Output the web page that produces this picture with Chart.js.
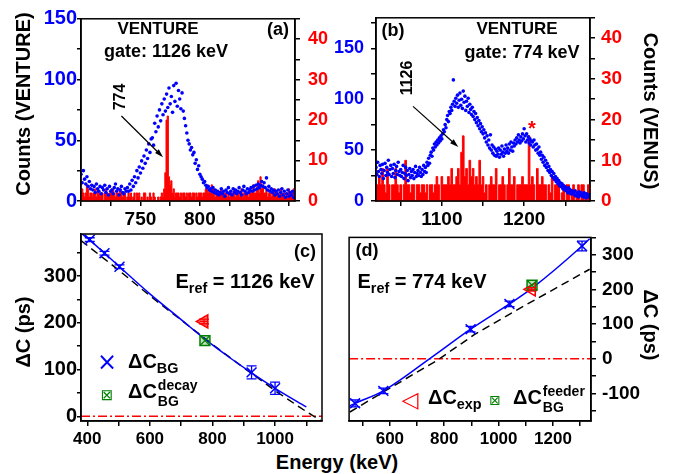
<!DOCTYPE html>
<html>
<head>
<meta charset="utf-8">
<script src="https://cdn.jsdelivr.net/npm/chart.js@4.4.1/dist/chart.umd.min.js"></script>
<style>
  body { margin: 0; background: #fff; }
  #fig { position: relative; width: 681px; height: 474px; overflow: hidden;
         font-family: "Liberation Sans", Arial, sans-serif; font-weight: bold; color: #000; }
  canvas { position: absolute; }
  .t { position: absolute; transform: translate(-50%, -50%); white-space: nowrap; line-height: 1; }
  .l { position: absolute; transform: translateY(-50%); white-space: nowrap; line-height: 1; }
  .up { transform: translate(-50%, -50%) rotate(-90deg); }
  .down { transform: translate(-50%, -50%) rotate(90deg); }
  sub { font-size: 72%; line-height: 0; vertical-align: -0.35em; }
  .ss { display: inline-flex; flex-direction: column; vertical-align: 0.58em; font-size: 70%; line-height: 1.15; margin-left: 1px; }
  .mk { font-family: "DejaVu Sans", sans-serif; font-weight: normal; }
</style>
</head>
<body>
<div id="fig">
  <canvas id="pa" width="340" height="230" style="left:0;top:0"></canvas>
  <canvas id="pb" width="320" height="230" style="left:330px;top:0"></canvas>
  <canvas id="pc" width="340" height="230" style="left:0;top:220px"></canvas>
  <canvas id="pd" width="320" height="230" style="left:340px;top:220px"></canvas>

  <div class="t up" style="left:23px;top:104px;font-size:20px">Counts (VENTURE)</div>
  <div class="t down" style="left:651px;top:111px;font-size:20px">Counts (VENUS)</div>
  <div class="t up" style="left:23px;top:332px;font-size:20px">ΔC (ps)</div>
  <div class="t down" style="left:651px;top:325px;font-size:20px">ΔC (ps)</div>
  <div class="t" style="left:337px;top:462px;font-size:20px">Energy (keV)</div>

  <div class="t" style="left:158px;top:28px;font-size:17px">VENTURE</div>
  <div class="t" style="left:166px;top:51px;font-size:18px">gate: 1126 keV</div>
  <div class="t" style="left:278px;top:29px;font-size:18px">(a)</div>
  <div class="t up" style="left:120px;top:97px;font-size:16px">774</div>

  <div class="t" style="left:393px;top:30px;font-size:18px">(b)</div>
  <div class="t" style="left:517px;top:28px;font-size:17px">VENTURE</div>
  <div class="t" style="left:522px;top:52px;font-size:18px">gate: 774 keV</div>
  <div class="t up" style="left:407px;top:78px;font-size:16px">1126</div>
  <div class="t" style="left:532px;top:128px;font-size:20px;color:#ff0000">*</div>

  <div class="t" style="left:305px;top:251px;font-size:18px">(c)</div>
  <div class="t" style="left:245px;top:281px;font-size:20px">E<sub>ref</sub> = 1126 keV</div>
  <div class="t mk" style="left:107px;top:362px;font-size:24px;color:#0000ff">×</div>
  <div class="l" style="left:128px;top:361px;font-size:20px">ΔC<sub>BG</sub></div>
  <div class="t mk" style="left:107px;top:395px;font-size:15px;color:#008000">⊠</div>
  <div class="l" style="left:128px;top:393px;font-size:20px">ΔC<span class="ss"><span>decay</span><span>BG</span></span></div>

  <div class="t" style="left:367px;top:250px;font-size:18px">(d)</div>
  <div class="t" style="left:422px;top:281px;font-size:20px">E<sub>ref</sub> = 774 keV</div>
  <div class="t mk" style="left:410px;top:400px;font-size:22px;color:#ff0000">◁</div>
  <div class="l" style="left:428px;top:397px;font-size:20px">ΔC<sub>exp</sub></div>
  <div class="t mk" style="left:495px;top:400px;font-size:14px;color:#008000">⊠</div>
  <div class="l" style="left:513px;top:399px;font-size:20px">ΔC<span class="ss"><span>feeder</span><span>BG</span></span></div>
</div>

<script>
// (a) gate 1126 keV: VENTURE counts per 1 keV channel from 700 keV, VENUS counts per 1 keV
const aStartKeV = 700;
const aVentureCounts = [
  22,15,25,18,14,20,12,16,10,13, 9,12,7,14,10,8,12,6,11,9,
  13,7,10,5,12,8,9,6,11,14, 8,10,5,9,12,7,6,10,8,11,
  8,14,9,17,12,20,15,25,19,28, 23,33,27,37,31,42,35,47,40,51,
  52,46,64,57,70,61,75,66,80,71, 84,74,88,77,93,80,86,73,95,82,
  97,78,91,84,76,89,74,68,62,56, 50,47,42,44,38,40,31,34,26,29,
  22,20,18,15,16,13,11,12,9,10, 8,11,7,9,6,8,5,7,10,6,
  8,4,9,7,11,6,8,5,10,7, 9,6,8,11,7,5,9,12,8,6,
  10,7,9,11,8,12,9,13,10,14, 11,13,16,12,15,11,19,9,12,8,
  10,7,9,5,8,6,9,4,7,10, 5,8,3,6,9,4,7,5,8,3, 6
];
const aVenusCounts = [
  2,3,2,1,2,4,3,1,2,2,1, 2,3,1,3,2,1,2,2,0,2,
  3,2,1,2,2,3,3,2,1,2, 2,1,3,2,1,2,2,0,1,2,
  1,2,0,1,2,0,2,1,2,0, 1,0,2,2,0,1,0,2,1,0,
  2,1,0,0,1,0,1,2,1,3, 7,20,21,6,4,5,2,3,1,2,
  2,2,1,2,0,2,2,1,2,0, 2,2,1,2,2,0,2,1,2,2,
  2,1,2,2,3,4,2,3,2,4, 3,3,1,2,2,1,2,3,2,1,
  2,2,1,2,1,2,2,2,3,1, 2,2,1,2,3,1,2,2,2,2,
  1,3,2,2,4,2,2,3,5,2, 6,3,4,2,2,3,1,2,2,1,
  2,2,3,1,2,2,1,3,2,1, 2,1,2,2,3,1,2,2,3,1
];
const aXLabels = [750, 800, 850];
const aYLabels = [0, 50, 100, 150];
const venusLabels = [0, 10, 20, 30, 40];

// (b) gate 774 keV: VENTURE per 1 keV from 1020 keV, VENUS per 2 keV from 1020 keV
const bStartKeV = 1020;
const bVentureCounts = [
  33,26,38,29,24,35,31,27,36,22, 30,37,25,33,28,40,26,31,35,24,
  32,27,36,23,30,34,26,38,29,25, 31,24,28,35,22,27,33,25,30,20,
  26,32,23,29,25,31,22,28,34,24, 27,30,25,33,28,24,31,26,35,29,
  33,28,38,35,42,37,45,48,44,52, 50,56,53,58,55,60,57,62,59,64,
  61,66,70,68,75,72,80,84,78,88, 86,92,89,95,119,98,93,101,96,104,
  92,99,106,94,100,91,108,97,103,89, 98,93,101,87,95,90,85,92,83,88,
  80,86,77,82,74,79,71,76,68,73, 66,70,62,67,58,64,55,60,52,65,
  50,55,47,53,45,51,44,49,46,52, 43,50,46,54,48,44,51,47,55,49,
  52,47,56,50,58,53,49,57,54,60, 56,62,58,65,60,57,63,59,66,61,
  71,64,58,66,60,63,57,61,55,59, 58,53,60,55,50,56,51,47,53,45,
  48,41,45,38,43,35,40,33,37,30, 34,28,31,25,29,23,27,21,24,19,
  22,17,20,15,18,14,17,12,15,11, 14,10,12,8,13,9,11,7,10,8,
  9,6,10,5,8,7,4,9,6,8, 5,7,4,8,6,3,7,5,4,6, 5
];
const bVenusBinKeV = 2;
const bVenusCounts = [
  4,4,6,4,8,4,2,8,4,0, 4,4,8,4,2,4,0,4,10,4,
  4,2,4,4,0,4,4,2,4,4, 2,4,0,4,4,2,4,6,4,0,
  6,4,4,4,6,4,8,4,4,6, 8,4,12,16,6,8,4,10,6,8,
  4,6,4,10,4,6,2,4,0,4, 6,4,4,8,0,4,4,6,4,0,
  4,8,4,4,6,0,4,4,4,6, 4,4,4,16,4,6,4,0,8,4,
  4,6,4,4,0,4,2,6,0,4, 4,4,0,2,4,0,4,4,0,2,
  4,0,2,4,0,4,4,0,2,4, 0
];
const bXLabels = [1100, 1200];
const bYLabels = [0, 50, 100, 150];

// (c) Eref = 1126 keV
const cEnergy = [408, 455, 503, 925, 1000];
const cDeltaC = [378, 349, 320, 94, 60];
const cDeltaCErr = [4, 4, 4, 14, 13];
const cDecayEnergy = [776];
const cDecayDeltaC = [162];
const cExpEnergy = [773];
const cExpDeltaC = [203];
const cFitEnergy = [380, 408, 455, 503, 600, 700, 776, 850, 925, 1000, 1100];
const cFitDeltaC = [392, 377, 349, 320, 262, 207, 165, 128, 93, 60, 20];
const cLinEnergy = [380, 500, 600, 700, 800, 900, 1000, 1100, 1148];
const cLinDeltaC = [376, 313, 258, 206, 154, 104, 55, 10, -10];
const cZeroEnergy = [380, 1150];
const cXLabels = [400, 600, 800, 1000];
const cYLabels = [0, 100, 200, 300];

// (d) Eref = 774 keV
const dEnergy = [472, 576, 897, 1040, 1307];
const dDeltaC = [-129, -93, 85, 158, 325];
const dDeltaCErr = [10, 8, 8, 8, 14];
const dFeederEnergy = [1123];
const dFeederDeltaC = [212];
const dExpEnergy = [1121];
const dExpDeltaC = [200];
const dFitEnergy = [453, 472, 576, 747, 897, 1040, 1126, 1307, 1335];
const dFitDeltaC = [-136, -129, -93, 0, 85, 158, 205, 325, 346];
const dLinEnergy = [453, 600, 774, 912, 1100, 1335];
const dLinDeltaC = [-154, -85, -5, 70, 155, 258];
const dZeroEnergy = [450, 1340];
const dXLabels = [600, 800, 1000, 1200];
const dYLabels = [-100, 0, 100, 200, 300];

const FONT = '"Liberation Sans", Arial, sans-serif';
const BLUE = '#0000ff', RED = '#ff0000', GREEN = '#008000';

const pts = (xs, ys) => xs.map((x, i) => ({ x, y: ys[i] }));
const channels = (start, step, counts) => counts.map((c, i) => ({ x: start + i * step, y: c }));

// box around the plot area
const frame = {
  id: 'frame',
  afterDatasetsDraw(chart) {
    const { ctx, chartArea: a } = chart;
    ctx.save();
    ctx.strokeStyle = '#000';
    ctx.lineWidth = 1.5;
    ctx.strokeRect(a.left, a.top, a.right - a.left, a.bottom - a.top);
    ctx.restore();
  }
};

const errorBars = {
  id: 'errorBars',
  afterDatasetsDraw(chart) {
    const ctx = chart.ctx;
    const xs = chart.scales.x, ys = chart.scales.y;
    chart.data.datasets.forEach(ds => {
      if (!ds.yErr && !ds.xErr) return;
      ctx.save();
      ctx.strokeStyle = ds.borderColor;
      ctx.lineWidth = 1.3;
      ds.data.forEach((p, j) => {
        const px = xs.getPixelForValue(p.x), py = ys.getPixelForValue(p.y);
        ctx.beginPath();
        if (ds.yErr) {
          const t = ys.getPixelForValue(p.y + ds.yErr[j]), b = ys.getPixelForValue(p.y - ds.yErr[j]);
          ctx.moveTo(px, t); ctx.lineTo(px, b);
          ctx.moveTo(px - 5, t); ctx.lineTo(px + 5, t);
          ctx.moveTo(px - 5, b); ctx.lineTo(px + 5, b);
        }
        if (ds.xErr) {
          const l = xs.getPixelForValue(p.x - ds.xErr[j]), r = xs.getPixelForValue(p.x + ds.xErr[j]);
          ctx.moveTo(l, py); ctx.lineTo(r, py);
        }
        ctx.stroke();
      });
      ctx.restore();
    });
  }
};

const arrow = {
  id: 'arrow',
  afterDatasetsDraw(chart, args, opts) {
    if (!opts || !opts.from) return;
    const { ctx } = chart;
    const xs = chart.scales.x, ys = chart.scales.y;
    const x1 = xs.getPixelForValue(opts.from[0]), y1 = ys.getPixelForValue(opts.from[1]);
    const x2 = xs.getPixelForValue(opts.to[0]), y2 = ys.getPixelForValue(opts.to[1]);
    const ang = Math.atan2(y2 - y1, x2 - x1);
    ctx.save();
    ctx.strokeStyle = '#000';
    ctx.fillStyle = '#000';
    ctx.lineWidth = 1.2;
    ctx.beginPath();
    ctx.moveTo(x1, y1);
    ctx.lineTo(x2 - 6 * Math.cos(ang), y2 - 6 * Math.sin(ang));
    ctx.stroke();
    ctx.beginPath();
    ctx.moveTo(x2, y2);
    ctx.lineTo(x2 - 9 * Math.cos(ang - 0.3), y2 - 9 * Math.sin(ang - 0.3));
    ctx.lineTo(x2 - 9 * Math.cos(ang + 0.3), y2 - 9 * Math.sin(ang + 0.3));
    ctx.closePath();
    ctx.fill();
    ctx.restore();
  }
};

// ticks at every multiple of step inside [min, max]
const everyStep = (min, max, step) => s => {
  const t = [];
  for (let v = Math.ceil(min / step) * step; v <= max; v += step) t.push({ value: v });
  s.ticks = t;
};

function xAxis(min, max, step, labels, size, pad) {
  return {
    type: 'linear', position: 'bottom', min, max,
    afterFit: s => { s.height = 29; },
    afterBuildTicks: everyStep(min, max, step),
    border: { display: true, color: '#000', width: 1.5 },
    grid: { drawOnChartArea: false, color: '#000', lineWidth: 1.5, tickLength: 5 },
    ticks: {
      autoSkip: false, maxRotation: 0, minRotation: 0,
      padding: pad, color: '#000', font: { family: FONT, size, weight: 'bold' },
      callback: v => labels.includes(v) ? String(v) : ''
    }
  };
}

function yAxis(position, min, max, step, labels, color, size, width, tick, pad) {
  return {
    type: 'linear', position, min, max,
    afterFit: s => { s.width = width; },
    afterBuildTicks: everyStep(min, max, step),
    border: { display: true, color: '#000', width: 1.5 },
    grid: { drawOnChartArea: false, color: '#000', lineWidth: 1.5, tickLength: tick },
    ticks: {
      autoSkip: false,
      padding: pad, color, font: { family: FONT, size, weight: 'bold' },
      callback: v => labels.includes(v) ? String(v) : ''
    }
  };
}

const base = {
  responsive: false,
  animation: false,
  devicePixelRatio: 1,
  events: [],
  plugins: { legend: { display: false }, tooltip: { enabled: false } }
};

function spectrumChart(id, blue, red, scales, layoutPad, arrowOpts) {
  return new Chart(document.getElementById(id), {
    type: 'scatter',
    data: {
      datasets: [
        { data: blue, yAxisID: 'y', pointRadius: 1.8, pointBackgroundColor: BLUE, pointBorderWidth: 0, showLine: false, order: 1 },
        { type: 'line', data: red, yAxisID: 'y2', stepped: 'middle', borderColor: RED, borderWidth: 1,
          backgroundColor: RED, fill: 'origin', pointRadius: 0, order: 2 }
      ]
    },
    options: { ...base, layout: { padding: layoutPad }, scales,
      plugins: { ...base.plugins, arrow: arrowOpts } },
    plugins: [frame, arrow]
  });
}

spectrumChart('pa',
  channels(aStartKeV, 1, aVentureCounts),
  channels(aStartKeV, 1, aVenusCounts),
  {
    x: xAxis(700, 880, 25, aXLabels, 19, 2),
    y: yAxis('left', 0, 150, 25, aYLabels, BLUE, 20, 81, 4, 0),
    y2: yAxis('right', 0, 45, 5, venusLabels, RED, 18, 45, 5, 8)
  },
  { top: 14 },
  { from: [734, 70], to: [769, 36] }
);

spectrumChart('pb',
  channels(bStartKeV, 1, bVentureCounts),
  channels(bStartKeV, bVenusBinKeV, bVenusCounts),
  {
    x: xAxis(1020, 1280, 50, bXLabels, 19, 2),
    y: yAxis('left', 0, 180, 25, bYLabels, BLUE, 18, 46, 5, 7),
    y2: yAxis('right', 0, 45, 5, venusLabels, RED, 19, 60, 5, 6)
  },
  { top: 14 },
  { from: [1065, 93], to: [1120, 53] }
);

function deltaCChart(id, d, scales, layoutPad) {
  return new Chart(document.getElementById(id), {
    type: 'scatter',
    data: {
      datasets: [
        { data: d.bg, pointStyle: 'crossRot', pointRadius: 7, borderColor: BLUE, pointBorderWidth: 1.5, yErr: d.bgErr, order: 1 },
        { data: d.green, pointStyle: 'rect', pointRadius: 7, borderColor: GREEN, pointBackgroundColor: 'rgba(0,128,0,0.25)', pointBorderWidth: 1.5, order: 2 },
        { data: d.green, pointStyle: 'crossRot', pointRadius: 7, borderColor: GREEN, pointBorderWidth: 1.2, order: 2 },
        { data: d.exp, pointStyle: 'triangle', rotation: -90, pointRadius: 7.5, borderColor: RED, pointBackgroundColor: d.expFill, pointBorderWidth: 1.6, xErr: [14], yErr: [5], order: d.expOrder },
        { type: 'line', data: d.fit, borderColor: BLUE, borderWidth: 1.5, pointRadius: 0, cubicInterpolationMode: 'monotone', order: 4 },
        { type: 'line', data: d.lin, borderColor: '#000', borderWidth: 1.5, borderDash: [8, 5], pointRadius: 0, order: 5 },
        { type: 'line', data: d.zero, borderColor: RED, borderWidth: 1.5, borderDash: [9, 3, 2, 3], pointRadius: 0, order: 6 }
      ]
    },
    options: { ...base, layout: { padding: layoutPad }, scales },
    plugins: [frame, errorBars]
  });
}

deltaCChart('pc', {
    bg: pts(cEnergy, cDeltaC), bgErr: cDeltaCErr,
    green: pts(cDecayEnergy, cDecayDeltaC),
    exp: pts(cExpEnergy, cExpDeltaC), expOrder: 0, expFill: 'rgba(255,0,0,0.55)',
    fit: pts(cFitEnergy, cFitDeltaC),
    lin: pts(cLinEnergy, cLinDeltaC),
    zero: pts(cZeroEnergy, [0, 0])
  },
  {
    x: xAxis(380, 1150, 100, cXLabels, 17, 3),
    y: yAxis('left', -10, 390, 50, cYLabels, '#000', 20, 81, 4, 0)
  },
  { top: 14, right: 18 }
);

deltaCChart('pd', {
    bg: pts(dEnergy, dDeltaC), bgErr: dDeltaCErr,
    green: pts(dFeederEnergy, dFeederDeltaC),
    exp: pts(dExpEnergy, dExpDeltaC), expOrder: 3, expFill: 'rgba(255,255,255,0.6)',
    fit: pts(dFitEnergy, dFitDeltaC),
    lin: pts(dLinEnergy, dLinDeltaC),
    zero: pts(dZeroEnergy, [0, 0])
  },
  {
    x: xAxis(450, 1340, 100, dXLabels, 17, 3),
    y: yAxis('right', -180, 350, 50, dYLabels, '#000', 19, 69, 5, 6)
  },
  { top: 14, left: 9 }
);
</script>
</body>
</html>
